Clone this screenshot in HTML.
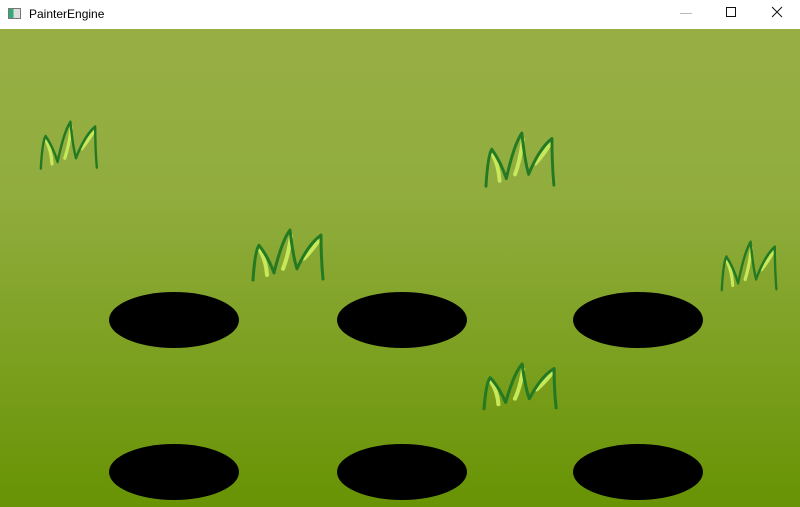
<!DOCTYPE html>
<html><head><meta charset="utf-8">
<style>
html,body{margin:0;padding:0;width:800px;height:507px;overflow:hidden;background:#fff;font-family:"Liberation Sans",sans-serif;}
#titlebar{position:absolute;left:0;top:0;width:800px;height:29px;background:#fff;}
#title{position:absolute;left:29px;top:7px;font-size:12px;color:#000;}
#icon{position:absolute;left:8px;top:8px;width:13px;height:11px;border:1px solid #777;background:linear-gradient(90deg,#3a7 0 40%,#ddd 40%);box-sizing:border-box;}
#scene{position:absolute;left:0;top:29px;}
</style></head><body>
<div id="titlebar">
  <div id="icon"></div>
  <div id="title">PainterEngine</div>
  <svg style="position:absolute;left:670px;top:0" width="130" height="29">
    <line x1="10" y1="13.5" x2="22" y2="13.5" stroke="#bbb"/>
    <rect x="56.5" y="7.5" width="9" height="9" fill="none" stroke="#111"/>
    <g stroke="#111"><line x1="102" y1="7" x2="112" y2="17"/><line x1="112" y1="7" x2="102" y2="17"/></g>
  </svg>
</div>
<svg id="scene" width="800" height="478">
  <defs>
    <linearGradient id="bg" x1="0" y1="0" x2="0" y2="1">
      <stop offset="0" stop-color="#97ae45"/>
      <stop offset="0.35" stop-color="#91ad3e"/>
      <stop offset="1" stop-color="#689304"/>
    </linearGradient>
  </defs>
  <rect width="800" height="478" fill="url(#bg)"/>
  <g id="grass"></g>
  <g id="holes"></g>
</svg>
<script>
const tuftX = [40, 485, 252, 721, 483];
const tuftY = [120, 131, 228, 240, 362];
const tuftSX = [0.8, 0.97, 1.0, 0.78, 1.03];
const tuftSY = [0.95, 1.08, 1.02, 0.98, 0.92];
const holeCols = [174, 402, 638];
const holeRows = [320, 472];
const NS = "http://www.w3.org/2000/svg";
const grass = document.getElementById('grass');
const outline = "M1,51 Q3,22 7,17 Q16,28 22,44 Q30,12 38,2 Q41,28 45,40 Q56,16 69,7 Q69,30 71,50";
const light = "M8,22 Q14,32 15,46 M39,8 Q36,28 31,40 M67,12 Q60,22 52,30";
for (let i = 0; i < tuftX.length; i++) {
  const g = document.createElementNS(NS, 'g');
  
  
  g.setAttribute('transform', `translate(${tuftX[i]},${tuftY[i]-29}) scale(${tuftSX[i]},${tuftSY[i]})`);
  const p2 = document.createElementNS(NS, 'path');
  p2.setAttribute('d', light); p2.setAttribute('fill', 'none');
  p2.setAttribute('stroke', '#c6e85a'); p2.setAttribute('stroke-width', '4'); p2.setAttribute('stroke-linecap', 'round');
  const p = document.createElementNS(NS, 'path');
  p.setAttribute('d', outline); p.setAttribute('fill', 'none');
  p.setAttribute('stroke', '#237a22'); p.setAttribute('stroke-width', '3'); p.setAttribute('stroke-linecap', 'round'); p.setAttribute('stroke-linejoin', 'round');
  g.appendChild(p2); g.appendChild(p);
  grass.appendChild(g);
}
const holes = document.getElementById('holes');
for (const cy of holeRows) for (const cx of holeCols) {
  const e = document.createElementNS(NS, 'ellipse');
  
  
  e.setAttribute('cx', cx); e.setAttribute('cy', cy - 29);
  e.setAttribute('rx', 65); e.setAttribute('ry', 28); e.setAttribute('fill', '#000');
  holes.appendChild(e);
}
</script>
</body></html>
